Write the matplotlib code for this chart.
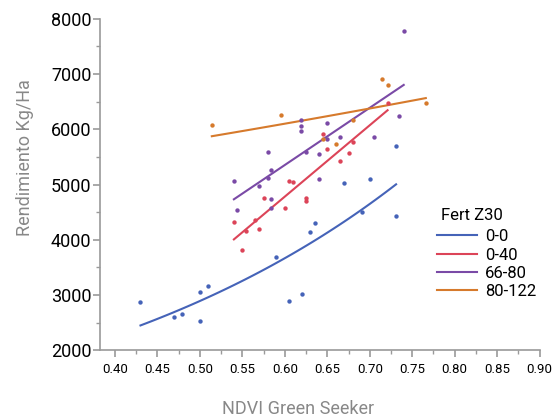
import numpy as np
import matplotlib
matplotlib.use('Agg')
import matplotlib.pyplot as plt
from matplotlib.ticker import MultipleLocator

plt.rcParams['font.family'] = ['Roboto', 'DejaVu Sans']

# Datos: NDVI vs rendimiento por dosis de fertilizante
x_00 = [0.430, 0.469, 0.479, 0.500, 0.509, 0.500, 0.589, 0.605, 0.620, 0.630,
        0.635, 0.670, 0.691, 0.700, 0.731, 0.731]
y_00 = [2877, 2606, 2660, 3058, 3166, 2533, 3691, 2895, 3022, 4137,
        4300, 5029, 4504, 5107, 5698, 4432]

x_040 = [0.540, 0.549, 0.554, 0.565, 0.570, 0.575, 0.600, 0.605, 0.610, 0.625,
         0.625, 0.645, 0.650, 0.665, 0.675, 0.680, 0.721]
y_040 = [4318, 3823, 4161, 4360, 4203, 4758, 4582, 5065, 5042, 4758,
         4703, 5915, 5644, 5427, 5571, 5770, 6470]

x_6680 = [0.540, 0.544, 0.570, 0.580, 0.580, 0.584, 0.584, 0.584, 0.619, 0.619,
          0.619, 0.625, 0.640, 0.640, 0.650, 0.650, 0.665, 0.705, 0.735, 0.740]
y_6680 = [5060, 4546, 4966, 5584, 5125, 5264, 4740, 4582, 6168, 6065,
          5964, 5595, 5553, 5092, 6108, 5830, 5866, 5855, 6235, 7772]

x_80122 = [0.514, 0.595, 0.645, 0.660, 0.680, 0.715, 0.721, 0.766]
y_80122 = [6072, 6253, 5830, 5740, 6168, 6915, 6807, 6476]

# nombre, x, y, color, tipo de tendencia
series = [
    ('0-0', x_00, y_00, '#4563b8', 'exp'),
    ('0-40', x_040, y_040, '#dc4458', 'lin'),
    ('66-80', x_6680, y_6680, '#7a4aa6', 'lin'),
    ('80-122', x_80122, y_80122, '#d67a2c', 'exp'),
]

fig = plt.figure(figsize=(5.54, 4.17), dpi=100)
ax = fig.add_axes([0.18, 0.16, 0.794, 0.795])

for nombre, xs, ys, color, tipo in series:
    xs = np.array(xs)
    ys = np.array(ys)
    ax.scatter(xs, ys, s=10, color=color, zorder=3, linewidths=0)
    xl = np.linspace(xs.min(), xs.max(), 50)
    if tipo == 'exp':
        b, ln_a = np.polyfit(xs, np.log(ys), 1)
        yl = np.exp(ln_a) * np.exp(b * xl)
    else:
        m, c = np.polyfit(xs, ys, 1)
        yl = m * xl + c
    ax.plot(xl, yl, color=color, lw=1.5, label=nombre)

ax.set_xlim(0.382, 0.90)
ax.set_ylim(2000, 8000)
ax.xaxis.set_major_locator(MultipleLocator(0.05))
ax.xaxis.set_minor_locator(MultipleLocator(0.025))
ax.yaxis.set_major_locator(MultipleLocator(1000))
ax.yaxis.set_minor_locator(MultipleLocator(500))
ax.xaxis.set_major_formatter(plt.FuncFormatter(lambda v, p: f'{v:.2f}'))

for s in ['top', 'right']:
    ax.spines[s].set_visible(False)
for s in ['left', 'bottom']:
    ax.spines[s].set_color('#9a9a9a')
    ax.spines[s].set_linewidth(1.2)
ax.tick_params(which='both', color='#9a9a9a', direction='out')
ax.tick_params(which='major', length=5, width=1.2)
ax.tick_params(which='minor', length=3, width=1.0)
ax.tick_params(axis='y', labelsize=13, pad=1)
ax.tick_params(axis='x', labelsize=9.5, pad=4)

ax.set_xlabel('NDVI Green Seeker', fontsize=13, color='#888888')
ax.set_ylabel('Rendimiento Kg/Ha', fontsize=13, color='#888888')
ax.xaxis.set_label_coords(0.45, -0.15)
ax.yaxis.set_label_coords(-0.15, 0.58)

ax.text(0.775, 0.408, 'Fert Z30', transform=ax.transAxes, fontsize=12,
        va='center', ha='left')
ax.legend(loc='upper left', bbox_to_anchor=(0.766, 0.365),
          frameon=False, fontsize=12, handlelength=2.4, borderpad=0,
          labelspacing=0.2, handletextpad=0.5, borderaxespad=0)

fig.savefig('out.png', dpi=100)
